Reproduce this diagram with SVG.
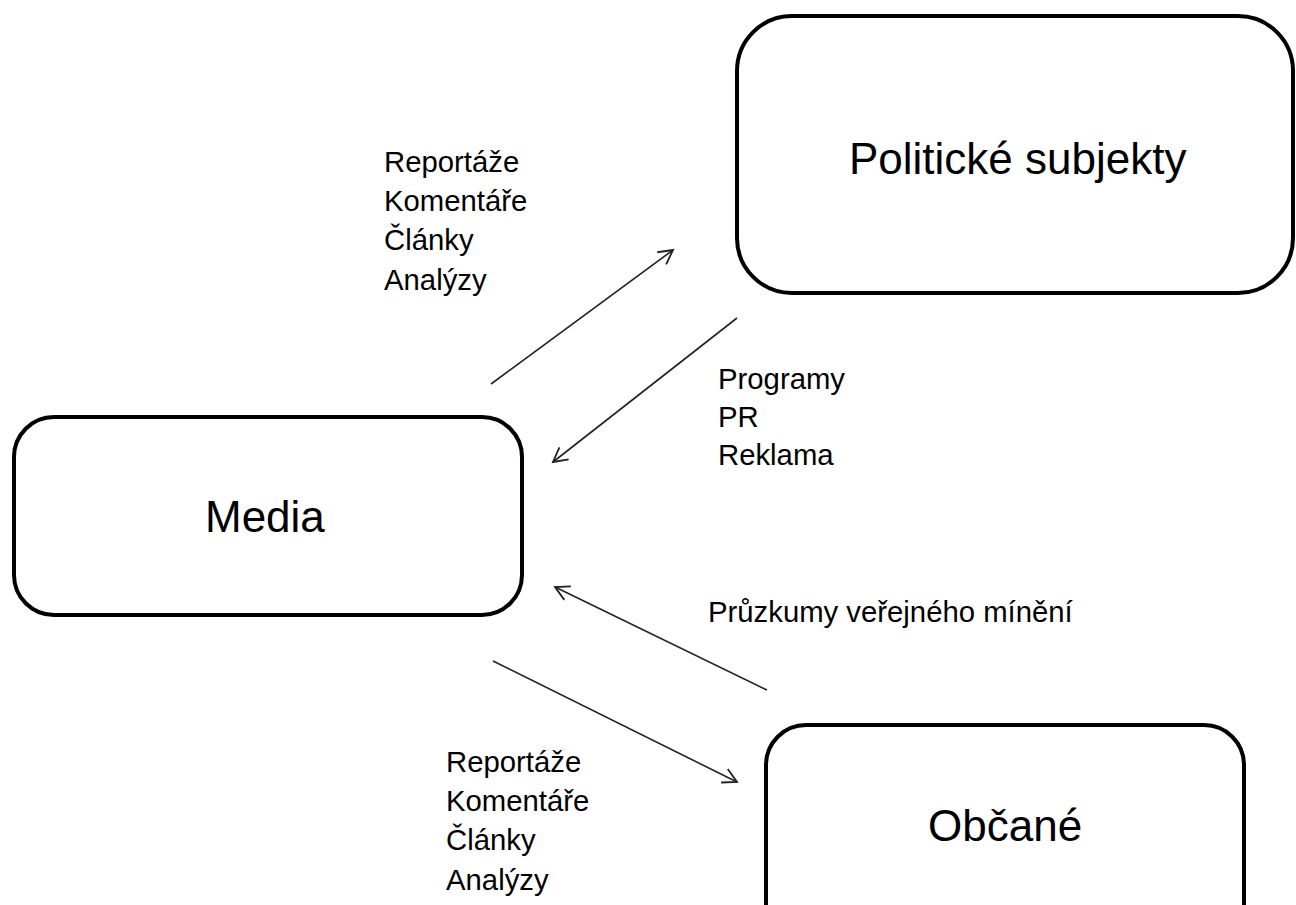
<svg xmlns="http://www.w3.org/2000/svg" width="1296" height="905" viewBox="0 0 1296 905">
<style>
.box{fill:#fff;stroke:#000;stroke-width:4}
.big{font-family:"Liberation Sans",Arial,sans-serif;font-size:44px;fill:#000}
.lbl{font-family:"Liberation Sans",Arial,sans-serif;font-size:29.3px;fill:#000}
.con{stroke:#222;stroke-width:1.6;fill:none;marker-end:url(#ah)}
</style>
<defs>
<marker id="ah" markerUnits="userSpaceOnUse" markerWidth="20" markerHeight="20" refX="15" refY="8.5" orient="auto">
<path d="M1,1 L15,8.5 L1,16" fill="none" stroke="#222" stroke-width="1.8"/>
</marker>
</defs>
<rect width="1296" height="905" fill="#fff"/>
<g id="politicke">
<rect class="box" x="737" y="16" width="556" height="277" rx="55" ry="55"/>
<text class="big" x="849" y="174">Politické subjekty</text>
</g>
<g id="media">
<rect class="box" x="14" y="417" width="508" height="198" rx="40" ry="40"/>
<text class="big" x="205" y="532">Media</text>
</g>
<g id="obcane">
<rect class="box" x="766" y="725" width="478" height="220" rx="40" ry="40"/>
<text class="big" x="928" y="841">Občané</text>
</g>
<g id="connectors">
<line class="con" x1="491" y1="384" x2="673" y2="250"/>
<line class="con" x1="737" y1="318" x2="553" y2="462"/>
<line class="con" x1="767" y1="690" x2="555" y2="587"/>
<line class="con" x1="493" y1="661" x2="737" y2="782"/>
</g>
<g id="labels">
<text class="lbl" x="384" y="172">Reportáže</text>
<text class="lbl" x="384" y="211">Komentáře</text>
<text class="lbl" x="384" y="250">Články</text>
<text class="lbl" x="384" y="290">Analýzy</text>
<text class="lbl" x="718" y="389">Programy</text>
<text class="lbl" x="718" y="427">PR</text>
<text class="lbl" x="718" y="465">Reklama</text>
<text class="lbl" x="708" y="622">Průzkumy veřejného mínění</text>
<text class="lbl" x="446" y="772">Reportáže</text>
<text class="lbl" x="446" y="811">Komentáře</text>
<text class="lbl" x="446" y="850">Články</text>
<text class="lbl" x="446" y="890">Analýzy</text>
</g>
</svg>
